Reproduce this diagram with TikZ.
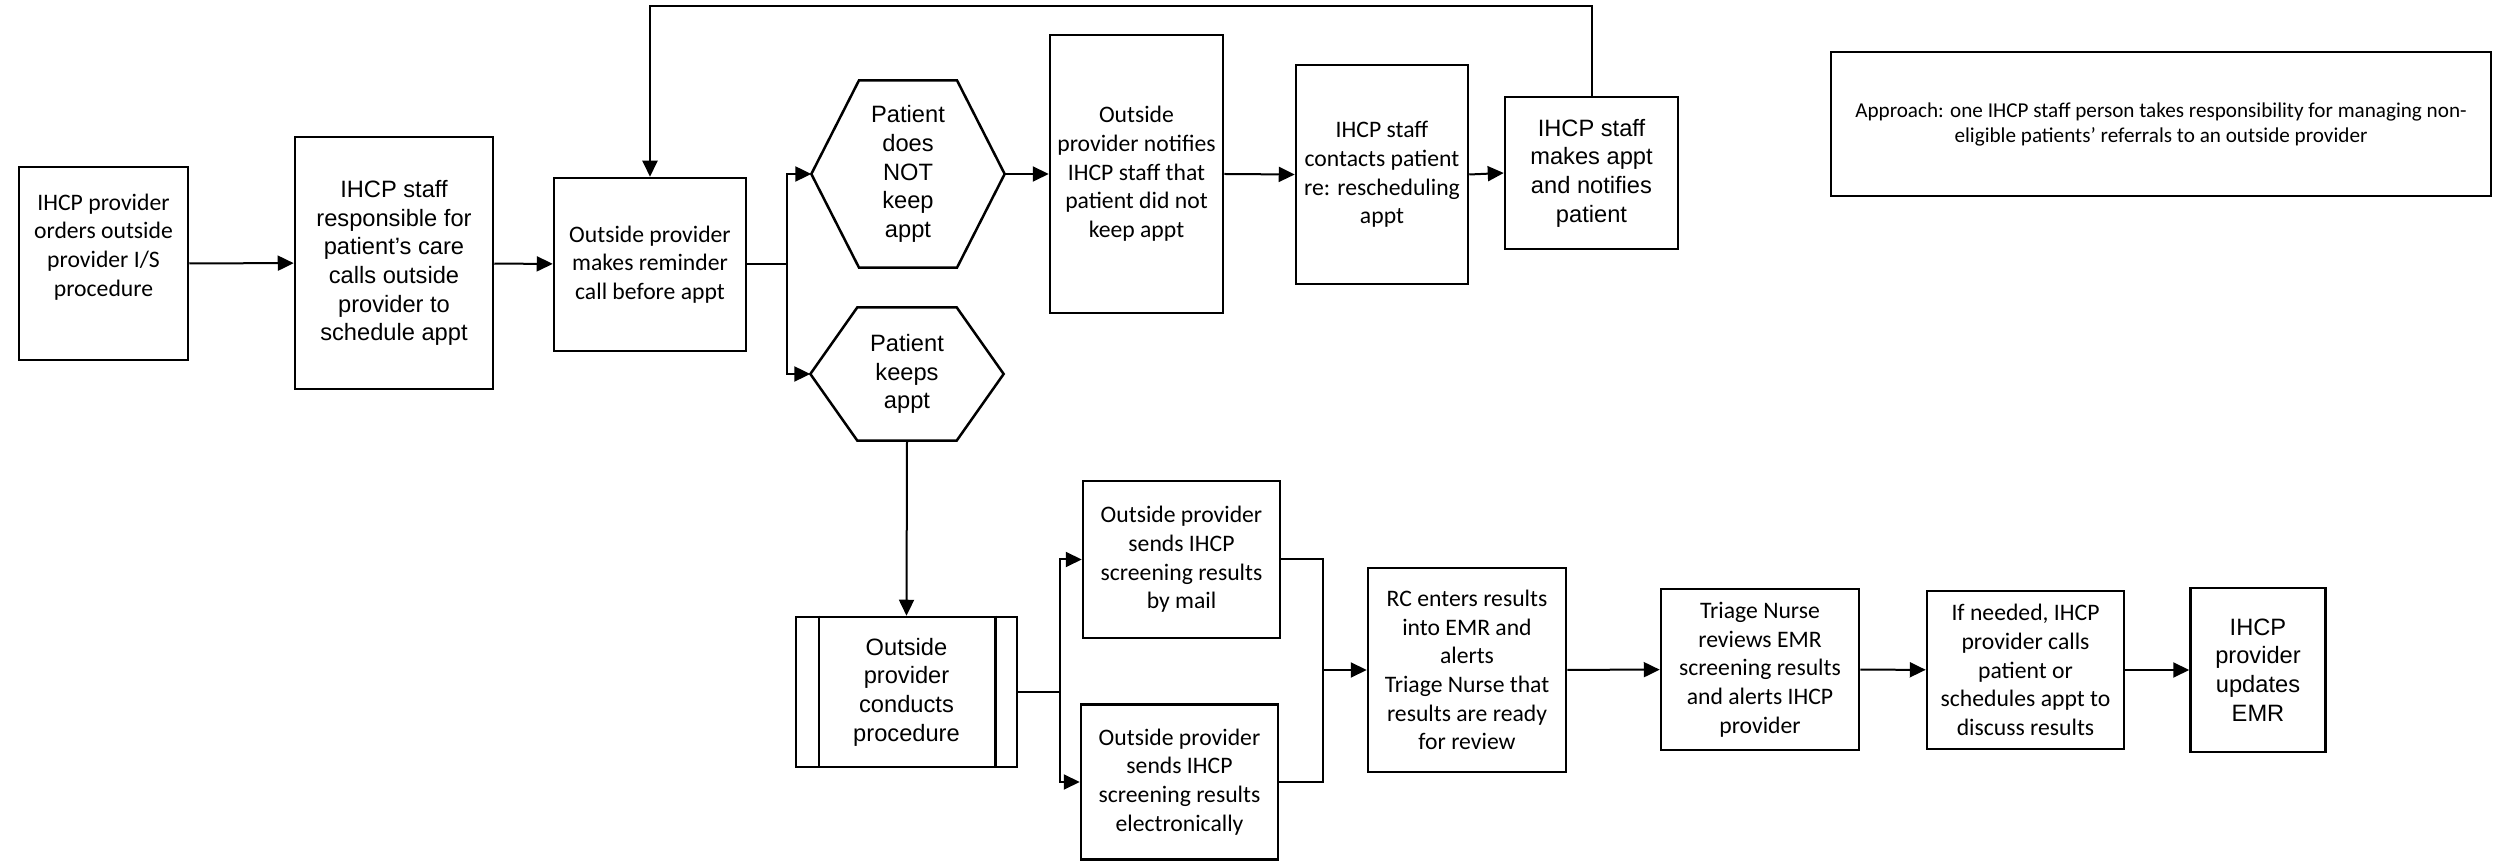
\documentclass[tikz,border=0pt]{standalone}
\usepackage{fontspec}
\setmainfont{Carlito}
\newfontfamily\arialf{Liberation Sans}
\usetikzlibrary{arrows.meta}
\tikzset{
  cal/.style={font={\fontsize{7.1pt}{8.6pt}\selectfont}},
  ar/.style={font={\arialf\fontsize{7.1pt}{8.6pt}\selectfont}},
  box/.style={draw, line width=0.75pt, align=center, inner sep=0pt, minimum width=#1},
  hgt/.style={minimum height=#1},
  hexbox/.style={draw=none, align=center, inner sep=0pt, minimum width=#1},
  conn/.style={line width=0.6pt},
  arr/.style={conn, -{Triangle[length=4.8pt,width=4.5pt]}},
  outline/.style={line width=0.75pt, line join=miter}
}
\begin{document}
\begin{tikzpicture}[x=0.3pt,y=-0.3pt]
\useasboundingbox (0,0) rectangle (2500,865);
% top row
\node[box={169*0.3pt}, hgt={193*0.3pt}, cal] (b1) at (103.5,263.5) {IHCP provider\\orders outside\\provider I/S\\procedure\\ \strut};
\node[box={198*0.3pt}, hgt={252*0.3pt}, ar] (b2) at (394,263) {IHCP staff\\responsible for\\patient’s care\\calls outside\\provider to\\schedule appt};
\node[box={192*0.3pt}, hgt={173*0.3pt}, cal] (b3) at (650,264.5) {Outside provider\\makes reminder\\call before appt};
\node[hexbox={192*0.3pt}, hgt={186*0.3pt}, ar] (h1) at (908,174) {Patient\\does\\NOT\\keep\\appt};
\draw[outline] (h1.west) -- ([xshift=14.3pt]h1.north west) -- ([xshift=-14.3pt]h1.north east) -- (h1.east) -- ([xshift=-14.3pt]h1.south east) -- ([xshift=14.3pt]h1.south west) -- cycle;
\node[hexbox={192*0.3pt}, hgt={132*0.3pt}, ar] (h2) at (907,374) {Patient\\keeps\\appt};
\draw[outline] (h2.west) -- ([xshift=14.1pt]h2.north west) -- ([xshift=-14.1pt]h2.north east) -- (h2.east) -- ([xshift=-14.1pt]h2.south east) -- ([xshift=14.1pt]h2.south west) -- cycle;
\node[box={173*0.3pt}, hgt={278*0.3pt}, cal] (nt) at (1136.5,174) {Outside\\provider notifies\\IHCP staff that\\patient did not\\keep appt};
\node[box={172*0.3pt}, hgt={219*0.3pt}, cal] (ct) at (1382,174.5) {IHCP staff\\contacts patient\\re: rescheduling\\appt};
\node[box={173*0.3pt}, hgt={152*0.3pt}, ar] (mk) at (1591.5,173) {IHCP staff\\makes appt\\and notifies\\patient};
\node[box={660*0.3pt}, hgt={144*0.3pt}, font={\fontsize{6.35pt}{7.5pt}\selectfont}] (ap) at (2161,124) {Approach: one IHCP staff person takes responsibility for managing non-\\eligible patients’ referrals to an outside provider};
% bottom row
\node[box={221*0.3pt}, hgt={150*0.3pt}, ar] (pr) at (906.5,692) {Outside\\provider\\conducts\\procedure};
\draw[outline] ([xshift=7.2pt]pr.north west) -- ([xshift=7.2pt]pr.south west);
\draw[outline] ([xshift=-6.9pt]pr.north east) -- ([xshift=-6.9pt]pr.south east);
\node[box={197*0.3pt}, hgt={157*0.3pt}, cal] (ml) at (1181.5,559.5) {Outside provider\\sends IHCP\\screening results\\by mail};
\node[box={197*0.3pt}, hgt={155*0.3pt}, cal] (el) at (1179.5,782) {Outside provider\\sends IHCP\\screening results\\electronically};
\node[box={198*0.3pt}, hgt={204*0.3pt}, cal] (rc) at (1467,670) {RC enters results\\into EMR and\\alerts\\Triage Nurse that\\results are ready\\for review};
\node[box={198*0.3pt}, hgt={161*0.3pt}, cal] (tr) at (1760,669.5) {Triage Nurse\\reviews EMR\\screening results\\and alerts IHCP\\provider};
\node[box={197*0.3pt}, hgt={158*0.3pt}, cal] (in) at (2025.5,670) {If needed, IHCP\\provider calls\\patient or\\schedules appt to\\discuss results};
\node[box={135*0.3pt}, hgt={164*0.3pt}, ar] (em) at (2258,670) {IHCP\\provider\\updates\\EMR};
% connectors
\coordinate (br1) at (787,264.5);
\coordinate (lp) at (1591.5,6);
\coordinate (br2) at (1060,692);
\coordinate (br3) at (1323,670);
\draw[arr] (b1) -- (b2);
\draw[arr] (b2) -- (b3);
\draw[conn] (b3.east) -- (br1);
\draw[arr] (br1) |- (h1.west);
\draw[arr] (br1) |- (h2.west);
\draw[arr] (h1.east) -- (nt.west);
\draw[arr] (nt.east) -- (ct.west);
\draw[arr] (ct.east) -- (mk.west);
\draw[arr] (mk.north) -- (lp) -| (b3.north);
\draw[arr] (h2.south) -- (pr.north);
\draw[conn] (pr.east) -- (br2);
\draw[arr] (br2) |- (ml.west);
\draw[arr] (br2) |- (el.west);
\draw[conn] (ml.east) -| (br3);
\draw[conn] (el.east) -| (br3);
\draw[arr] (br3) -- (rc.west);
\draw[arr] (rc) -- (tr);
\draw[arr] (tr) -- (in);
\draw[arr] (in) -- (em);
\end{tikzpicture}
\end{document}
